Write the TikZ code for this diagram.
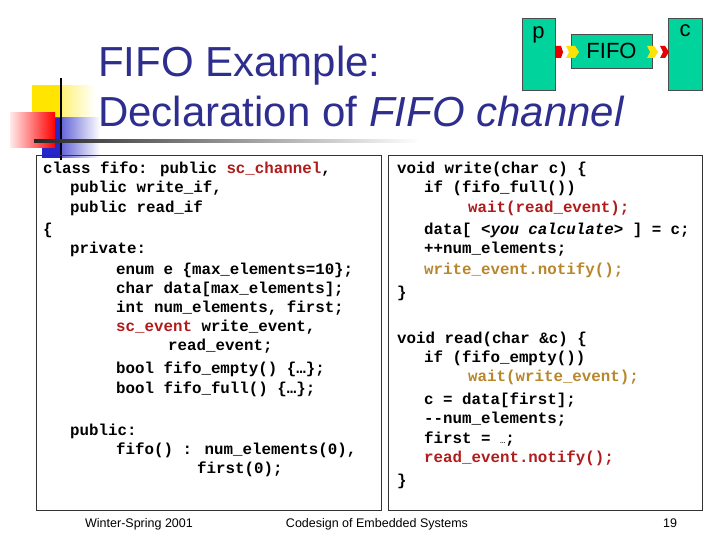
\documentclass[tikz,border=0pt]{standalone}
\usepackage{fontspec}
\setmainfont{Liberation Sans}
\newfontfamily\codefont{Liberation Mono}
\usetikzlibrary{shapes.geometric}
\definecolor{titleblue}{HTML}{2E2E8F}
\definecolor{kred}{HTML}{B01C1C}
\definecolor{korange}{HTML}{B8862B}
\definecolor{teal}{HTML}{00D49C}
\begin{document}
\begin{tikzpicture}[x=1pt,y=-1pt,
  code/.style={anchor=base west,inner sep=0pt,font=\codefont\bfseries\fontsize{15.8}{18}\selectfont},
  title/.style={anchor=base west,inner sep=0pt,text=titleblue,font=\fontsize{42}{46}\selectfont},
  foot/.style={anchor=base,inner sep=0pt,font=\fontsize{12.5}{14}\selectfont},
  blk/.style={draw=black!70,fill=teal,line width=0.8pt},
  panel/.style={draw=black!80,line width=0.8pt},
  redport/.style={fill=red!90!black},
  yelport/.style={fill=yellow!85!orange}]
\useasboundingbox (0,0) rectangle (720,540);
\fill[white] (0,0) rectangle (720,540);
% decoration
\shade[left color=yellow!80!orange,right color=white] (32,86) rectangle (95,140);
\shade[left color=yellow!80!orange,right color=yellow!80!orange] (32,86) rectangle (60,140);
\shade[left color=blue!75!black!90,right color=white] (42,118) rectangle (100,158);
\fill[blue!75!black!85] (42,118) rectangle (60,158);
\shade[left color=red!8,right color=red] (10,113) rectangle (55,148);
\draw[black,line width=2pt] (61,78) -- (61,160);
\shade[left color=black!85,right color=white] (34,139.8) rectangle (420,142.2);
% title
\node[title] (t1) at (98,77) {FIFO Example:};
\node[title] (t2) at (98,127) {Declaration of \textit{FIFO channel}};
% top diagram
\node[blk,minimum width=33pt,minimum height=72pt,inner sep=0pt] (p) at (538.5,54) {};
\node[anchor=north,inner sep=0pt,font=\fontsize{22}{24}\selectfont] (pl) at ([yshift=-9pt]p.north) {p};
\node[blk,minimum width=81pt,minimum height=34pt,inner sep=0pt,font=\fontsize{22}{24}\selectfont] (fifo) at (611.5,51) {FIFO};
\node[blk,minimum width=34pt,minimum height=72pt,inner sep=0pt] (c) at (685,54) {};
\node[anchor=north,inner sep=0pt,font=\fontsize{22}{24}\selectfont] (cl) at ([yshift=-7pt]c.north) {c};
\fill[redport] (555,46) -- (561,46) -- (563,52) -- (561,58) -- (555,58) -- cycle;
\fill[yelport] (566,46) -- (575,46) -- (579,52) -- (575,58) -- (566,58) -- (569,52) -- cycle;
\fill[yelport] (647,46) -- (654,46) -- (658,52) -- (654,58) -- (647,58) -- (650,52) -- cycle;
\fill[redport] (660,46) -- (665,46) -- (669,52) -- (665,58) -- (660,58) -- (663,52) -- cycle;
% panels
\draw[panel] (36,155) rectangle (381,510);
\draw[panel] (388,155) rectangle (702,510);
% left code
\node[code] (l1) at (43,174) {class fifo: public \textcolor{kred}{sc\_channel},};
\node[code] (l2) at (70,193) {public write\_if,};
\node[code] (l3) at (70,212) {public read\_if};
\node[code] (l4) at (43,235) {\{};
\node[code] (l5) at (70,254) {private:};
\node[code] (l6) at (116,274) {enum e \{max\_elements=10\};};
\node[code] (l7) at (116,293) {char data[max\_elements];};
\node[code] (l8) at (116,312) {int num\_elements, first;};
\node[code] (l9) at (116,331) {\textcolor{kred}{sc\_event} write\_event,};
\node[code] (l10) at (168,350) {read\_event;};
\node[code] (l11) at (116,373) {bool fifo\_empty() \{…\};};
\node[code] (l12) at (116,393) {bool fifo\_full() \{…\};};
\node[code] (l13) at (70,435) {public:};
\node[code] (l14) at (116,454) {fifo() : num\_elements(0),};
\node[code] (l15) at (197,473) {first(0);};
% right code
\node[code] (r1) at (397,174) {void write(char c) \{};
\node[code] (r2) at (424,193) {if (fifo\_full())};
\node[code,text=kred] (r3) at (468,212) {wait(read\_event);};
\node[code] (r4) at (424,235) {data[ \textit{<you calculate>} ] = c;};
\node[code] (r5) at (424,254) {++num\_elements;};
\node[code,text=korange] (r6) at (424,274) {write\_event.notify();};
\node[code] (r7) at (397,297) {\}};
\node[code] (r8) at (397,343) {void read(char \&c) \{};
\node[code] (r9) at (424,362) {if (fifo\_empty())};
\node[code,text=korange] (r10) at (468,381) {wait(write\_event);};
\node[code] (r11) at (424,404) {c = data[first];};
\node[code] (r12) at (424,423) {-{}-num\_elements;};
\node[code] (r13) at (424,443) {first =  {\mdseries\fontsize{9}{10}\selectfont …};};
\node[code,text=kred] (r14) at (424,462) {read\_event.notify();};
\node[code] (r15) at (397,485) {\}};
% footer
\node[foot] (f1) at (139,527) {Winter-Spring 2001};
\node[foot] (f2) at (377,527) {Codesign of Embedded Systems};
\node[foot] (f3) at (670,527) {19};
\end{tikzpicture}
\end{document}
